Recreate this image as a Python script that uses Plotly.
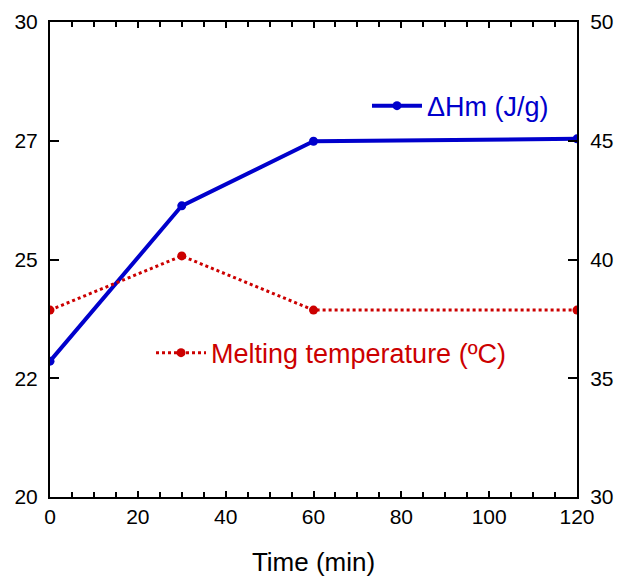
import plotly.graph_objects as go

time_min = [0, 30, 60, 120]
delta_hm = [22.86, 26.13, 27.49, 27.54]
melting_temp = [37.87, 40.15, 37.87, 37.87]

left_tickvals = [20, 22.5, 25, 27.5, 30]
left_ticktext = ["20", "22", "25", "27", "30"]
right_tickvals = [30, 35, 40, 45, 50]

BLUE = "#0000CC"
RED = "#CC0000"
FONT = "Liberation Sans, Arial, sans-serif"

fig = go.Figure()
fig.add_trace(go.Scatter(
    x=time_min, y=delta_hm, name="ΔHm (J/g)", mode="lines+markers",
    line=dict(color=BLUE, width=4), marker=dict(color=BLUE, size=9),
    legend="legend", yaxis="y"))
fig.add_trace(go.Scatter(
    x=time_min, y=melting_temp, name="Melting temperature (ºC)", mode="lines+markers",
    line=dict(color=RED, width=3, dash="dot"), marker=dict(color=RED, size=9),
    legend="legend2", yaxis="y2"))

fig.update_layout(
    width=618, height=579,
    margin=dict(l=50, r=41, t=22, b=82, autoexpand=False),
    paper_bgcolor="white", plot_bgcolor="white",
    font=dict(family=FONT, size=21, color="black"),
    xaxis=dict(range=[0, 120], tickvals=[0, 20, 40, 60, 80, 100, 120],
               ticks="inside", ticklen=6, tickwidth=1.5, tickcolor="black",
               minor=dict(dtick=5, tick0=0, ticks="inside", ticklen=5, tickwidth=1.5, tickcolor="black"),
               showline=True, linecolor="black", linewidth=2, mirror="ticks",
               showgrid=False, zeroline=False, automargin=False,
               title=dict(text="Time (min)", font=dict(size=26), standoff=26),
               tickfont=dict(size=21)),
    yaxis=dict(range=[20, 30], tickvals=left_tickvals, ticktext=left_ticktext,
               ticks="inside", ticklen=9, tickwidth=1.5, tickcolor="black",
               showline=True, linecolor="black", linewidth=2, automargin=False,
               showgrid=False, zeroline=False, tickfont=dict(size=21),
               ticklabelstandoff=6),
    yaxis2=dict(range=[30, 50], tickvals=right_tickvals, overlaying="y", side="right",
                ticks="inside", ticklen=9, tickwidth=1.5, tickcolor="black",
                showline=True, linecolor="black", linewidth=2, automargin=False,
                showgrid=False, zeroline=False, tickfont=dict(size=21),
                ticklabelstandoff=7),
    legend=dict(x=0.6015, y=0.823, xanchor="left", yanchor="middle", itemwidth=50,
                bgcolor="rgba(0,0,0,0)", font=dict(color=BLUE, size=27)),
    legend2=dict(x=0.1917, y=0.303, xanchor="left", yanchor="middle", itemwidth=50,
                 bgcolor="rgba(0,0,0,0)", font=dict(color=RED, size=27)),
    showlegend=True,
)

fig.write_html("out.html")
